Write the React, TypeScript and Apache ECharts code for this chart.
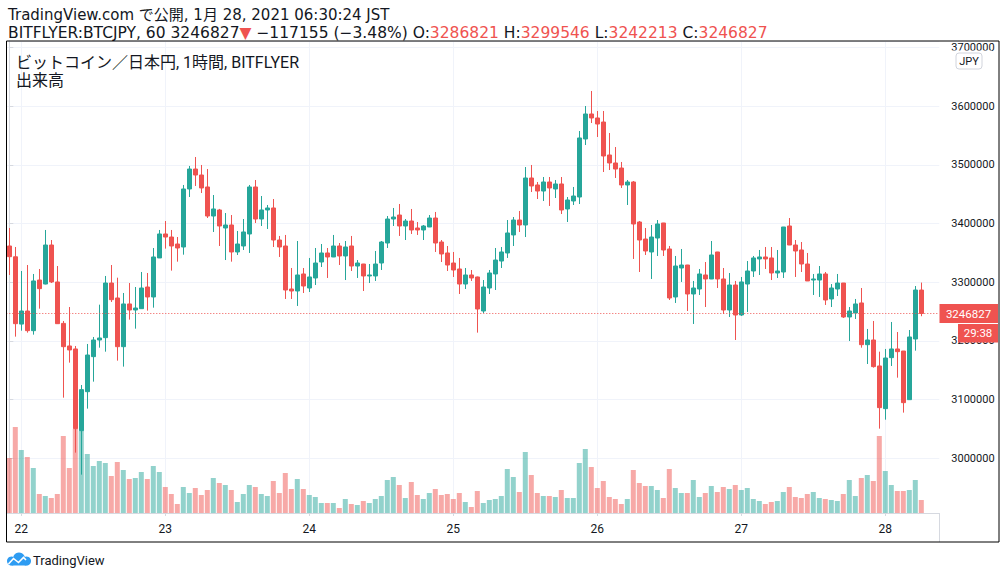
import React, { useEffect, useRef } from 'react';
import * as echarts from 'echarts';

// ---- Data (BITFLYER:BTCJPY, 1h candles, Jan 21 22:00 → Jan 28 06:00 JST) ----
const opens = [
  3361900, 3343500, 3228800, 3251100, 3217600, 3303900, 3297100, 3363600, 3300600, 3230000,
  3191500, 3186400, 3047200, 3113600, 3173300, 3201700, 3205700, 3298800, 3273300, 3190300,
  3263100, 3252800, 3255100, 3292000, 3275000, 3341500, 3382400, 3377200, 3365300, 3360200,
  3459100, 3493100, 3482900, 3462500, 3413000, 3423300, 3392600, 3397700, 3351700, 3361900,
  3382400, 3462500, 3407900, 3423300, 3426700, 3372100, 3361900, 3288600, 3285200, 3314200,
  3290300, 3307400, 3334600, 3350000, 3343200, 3361900, 3344900, 3361900, 3327800, 3331200,
  3310800, 3310800, 3332900, 3367000, 3407900, 3414700, 3396000, 3404500, 3392600, 3389200,
  3394300, 3409600, 3368700, 3350000, 3332900, 3322700, 3297100, 3312500, 3309100, 3251100,
  3290300, 3314200, 3336300, 3350000, 3380700, 3406200, 3397700, 3477800, 3465900, 3455600,
  3471000, 3459100, 3467600, 3425000, 3438600, 3445400, 3544300, 3586900, 3580100, 3573200,
  3517000, 3503400, 3494800, 3465900, 3471000, 3402800, 3373800, 3351700, 3375500, 3401100,
  3356800, 3275000, 3324400, 3329500, 3280100, 3288600, 3312500, 3305700, 3351700, 3305700,
  3252800, 3295400, 3244300, 3297100, 3319300, 3339800, 3343200, 3341500, 3315900, 3317600,
  3396000, 3363600, 3355100, 3331200, 3303900, 3303900, 3314200, 3271600, 3288600, 3298800,
  3240900, 3247700, 3264800, 3193700, 3201700, 3157400, 3084700, 3171600, 3186400, 3182900,
  3100000, 3203400, 3286821,
];
const highs = [
  3392600, 3360200, 3319300, 3329500, 3314200, 3322700, 3389200, 3372100, 3327800, 3234100,
  3257900, 3191500, 3125000, 3194900, 3206800, 3261900, 3310800, 3329500, 3307900, 3281800,
  3298800, 3292000, 3317600, 3315900, 3358500, 3389200, 3404500, 3389200, 3377200, 3465900,
  3498300, 3513600, 3500000, 3493100, 3448800, 3425100, 3418100, 3414700, 3387500, 3407900,
  3465900, 3474400, 3447100, 3431800, 3442000, 3379000, 3380700, 3324400, 3370400, 3324400,
  3341500, 3358500, 3365300, 3358500, 3380700, 3367000, 3370400, 3379000, 3338000, 3331400,
  3331200, 3353400, 3370400, 3413000, 3426700, 3433500, 3407900, 3425000, 3402800, 3397700,
  3414700, 3419900, 3372100, 3361900, 3351700, 3341500, 3324400, 3321000, 3309700, 3303900,
  3321000, 3358500, 3360200, 3406200, 3411300, 3421600, 3496500, 3500000, 3471000, 3479500,
  3479500, 3474400, 3479500, 3445400, 3462500, 3557900, 3600500, 3626100, 3592000, 3592000,
  3554500, 3530600, 3505100, 3474400, 3472700, 3404500, 3392600, 3397700, 3406200, 3401300,
  3361900, 3344900, 3356800, 3329700, 3302300, 3322700, 3334600, 3370400, 3351900, 3324400,
  3315900, 3302300, 3309100, 3336300, 3344900, 3355100, 3360200, 3360200, 3355100, 3394400,
  3409600, 3372100, 3368700, 3350000, 3314200, 3327800, 3317600, 3297100, 3314200, 3298900,
  3257900, 3271600, 3290300, 3220500, 3234100, 3181800, 3186400, 3232400, 3215300, 3183000,
  3218700, 3293700, 3299546,
];
const lows = [
  3312500, 3207400, 3217600, 3214200, 3210800, 3255100, 3296500, 3298800, 3229300, 3103400,
  3163100, 3009700, 2972200, 3084700, 3130700, 3188600, 3181800, 3266500, 3166500, 3156300,
  3236400, 3221000, 3255000, 3251700, 3256800, 3341400, 3357400, 3319900, 3335200, 3347100,
  3445400, 3464200, 3452200, 3409600, 3385800, 3361900, 3338000, 3335200, 3346600, 3355100,
  3350000, 3401100, 3396000, 3390900, 3360200, 3343200, 3271600, 3271600, 3259700, 3281800,
  3283500, 3295400, 3326100, 3307400, 3343000, 3329500, 3303900, 3319300, 3307400, 3285200,
  3298800, 3302300, 3321000, 3358500, 3396000, 3379000, 3372100, 3382400, 3380700, 3372100,
  3394200, 3351700, 3334600, 3319300, 3309100, 3280100, 3288600, 3302300, 3214200, 3247700,
  3280100, 3286900, 3324400, 3341500, 3361900, 3385800, 3377200, 3453900, 3442000, 3438600,
  3430100, 3443700, 3416400, 3402800, 3431800, 3433500, 3534000, 3571500, 3547700, 3488000,
  3491400, 3477800, 3460800, 3431800, 3339800, 3317600, 3346600, 3305700, 3344900, 3344900,
  3269900, 3264800, 3300600, 3251100, 3229000, 3278400, 3257900, 3305500, 3290300, 3246000,
  3240900, 3201700, 3242600, 3249400, 3309100, 3312500, 3322700, 3303900, 3307400, 3307400,
  3363500, 3309100, 3317600, 3302200, 3278400, 3275000, 3261400, 3257900, 3276700, 3239200,
  3200000, 3237500, 3188600, 3160800, 3154600, 3050600, 3065900, 3157400, 3137500, 3077900,
  3099900, 3183500, 3242213,
];
const closes = [
  3343700, 3229500, 3251100, 3217600, 3302300, 3289200, 3363600, 3300600, 3229500, 3190300,
  3184700, 3050600, 3117100, 3176100, 3201700, 3205100, 3298800, 3270400, 3190300, 3263100,
  3252800, 3256200, 3290300, 3275000, 3343200, 3382400, 3377200, 3361900, 3358500, 3459100,
  3493100, 3482900, 3460800, 3413000, 3425000, 3396000, 3397700, 3351700, 3365300, 3385800,
  3462500, 3407900, 3423300, 3426700, 3372100, 3360200, 3286900, 3285200, 3312500, 3293700,
  3309100, 3332900, 3350000, 3343200, 3361900, 3344900, 3360200, 3327800, 3332900, 3310800,
  3312500, 3331200, 3368700, 3407900, 3411300, 3396000, 3404500, 3389200, 3389200, 3396000,
  3409600, 3367000, 3348300, 3329500, 3321000, 3297100, 3312500, 3307400, 3254500, 3292000,
  3315900, 3338000, 3351700, 3384100, 3406200, 3397700, 3477800, 3464200, 3455600, 3471000,
  3460800, 3467600, 3423300, 3440300, 3447100, 3546000, 3586900, 3580100, 3569800, 3515300,
  3503400, 3493100, 3465900, 3471000, 3399400, 3372100, 3353400, 3377200, 3399400, 3355100,
  3273300, 3327800, 3329500, 3280100, 3290300, 3314200, 3305700, 3346600, 3305700, 3252800,
  3295400, 3244300, 3300600, 3319300, 3341500, 3343200, 3339800, 3315900, 3319300, 3394300,
  3363600, 3353400, 3331200, 3302300, 3305700, 3314200, 3269900, 3290300, 3298800, 3240900,
  3251100, 3263100, 3193700, 3201700, 3156300, 3086400, 3171000, 3186400, 3181800, 3094900,
  3206800, 3286900, 3246827,
];
const volumes = [
  1650, 2580, 1890, 1680, 1350, 570, 510, 450, 570, 2310,
  1350, 2520, 2470, 1770, 1410, 1560, 1500, 1110, 1530, 1290,
  1020, 1050, 1230, 1020, 1410, 1230, 780, 570, 270, 780,
  600, 750, 540, 690, 1050, 900, 840, 690, 330, 570,
  840, 780, 570, 510, 960, 600, 1200, 720, 1020, 720,
  540, 480, 300, 300, 300, 150, 420, 270, 240, 360,
  300, 420, 510, 990, 1080, 840, 450, 930, 540, 420,
  600, 720, 540, 570, 420, 600, 330, 180, 660, 300,
  390, 420, 510, 1320, 1080, 630, 1830, 1140, 600, 510,
  510, 480, 690, 450, 450, 1500, 1920, 1380, 750, 960,
  480, 420, 270, 420, 1290, 900, 810, 810, 690, 450,
  1320, 750, 600, 600, 990, 480, 600, 810, 630, 780,
  720, 840, 690, 750, 420, 360, 270, 330, 360, 630,
  780, 480, 450, 570, 630, 450, 420, 390, 360, 570,
  990, 510, 1050, 1140, 960, 2310, 1260, 840, 660, 660,
  690, 990, 390,
];
const dayLabels = ['22', '23', '24', '25', '26', '27', '28'];
const firstDayCandle = 2; // Jan 22 00:00 is the third hourly candle
const candlesPerDay = 24;

const publishedText = 'TradingView.com で公開, 1月 28, 2021 06:30:24 JST';
const symbolText = 'BITFLYER:BTCJPY, 60';
const changeAbs = '−117155';
const changePct = '(−3.48%)';
const legendTitle = 'ビットコイン／日本円, 1時間, BITFLYER';
const volumeTitle = '出来高';
const currency = 'JPY';
const countdown = '29:38';
const brand = 'TradingView';

// ---- Styles ----
const UP = '#26a69a';
const DOWN = '#ef5350';
const UP_VOL = 'rgba(38,166,154,0.5)';
const DOWN_VOL = 'rgba(239,83,80,0.5)';
const TEXT = '#131722';
const GRID = '#f0f3fa';
const AXIS = '#d6d9e0';
const FONT = 'Roboto, "Noto Sans CJK JP", sans-serif';
const HEAD_FONT = '"DejaVu Sans", "Noto Sans CJK JP", sans-serif';
const LOGO = '#2e9cf2';

const dayTickValues = dayLabels.map((_, k) => firstDayCandle + k * candlesPerDay);

export default function App() {
  const ref = useRef<HTMLDivElement>(null);

  useEffect(() => {
    if (!ref.current) return;
    const chart = echarts.init(ref.current, null, { renderer: 'svg' });
    const last = opens.length - 1;
    const lastClose = closes[last];

    chart.setOption({
      animation: false,
      backgroundColor: '#ffffff',
      grid: { left: 6.3, right: 66.7, top: 41, bottom: 66, outerBoundsMode: 'none', containLabel: false },
      xAxis: {
        type: 'value',
        min: -0.5,
        max: 155,
        axisLine: { show: true, lineStyle: { color: AXIS, width: 1 } },
        axisTick: { show: true, length: 3, customValues: dayTickValues, lineStyle: { color: AXIS } },
        axisLabel: {
          customValues: dayTickValues,
          formatter: (v: number) => {
            const k = dayTickValues.indexOf(v);
            return k >= 0 ? dayLabels[k] : '';
          },
          color: TEXT,
          fontSize: 12,
          fontFamily: FONT,
          margin: 10,
        },
        splitLine: { show: true, lineStyle: { color: GRID, width: 1 } },
      },
      yAxis: [
        {
          type: 'value',
          position: 'right',
          min: 2906820,
          max: 3711300,
          splitNumber: 8,
          axisLine: { show: true, lineStyle: { color: AXIS, width: 1 } },
          axisTick: { show: true, length: 4, lineStyle: { color: AXIS } },
          axisLabel: {
            formatter: (v: number) => String(Math.round(v)),
            color: TEXT,
            fontSize: 11,
            fontFamily: FONT,
            margin: 12,
            showMinLabel: false,
            showMaxLabel: false,
          },
          splitLine: { show: true, lineStyle: { color: GRID, width: 1 } },
        },
        { type: 'value', min: 0, max: 14160, show: false },
      ],
      series: [
        {
          name: volumeTitle,
          type: 'bar',
          xAxisIndex: 0,
          yAxisIndex: 1,
          barWidth: 5,
          silent: true,
          z: 1,
          data: volumes.map((v, i) => ({
            value: [i, v],
            itemStyle: { color: closes[i] >= opens[i] ? UP_VOL : DOWN_VOL },
          })),
        },
        {
          name: 'BTCJPY',
          type: 'candlestick',
          xAxisIndex: 0,
          yAxisIndex: 0,
          barWidth: 4.4,
          silent: true,
          z: 3,
          itemStyle: { color: UP, color0: DOWN, borderColor: UP, borderColor0: DOWN, borderWidth: 1 },
          data: opens.map((o, i) => [i, o, closes[i], lows[i], highs[i]]),
          markLine: {
            silent: true,
            symbol: 'none',
            label: { show: false },
            lineStyle: { color: DOWN, type: [1, 2], width: 1 },
            data: [{ yAxis: lastClose }],
          },
        },
      ],
    });

    const yPix = chart.convertToPixel({ yAxisIndex: 0 }, lastClose) as number;

    const header2 =
      `${symbolText} ${lastClose}{r|▼} ${changeAbs} ${changePct} ` +
      `O:{r|${opens[last]}} H:{r|${highs[last]}} L:{r|${lows[last]}} C:{r|${closes[last]}}`;

    chart.setOption({
      graphic: [
        {
          type: 'text', x: 8, y: 15, z: 10,
          style: { text: publishedText, fill: TEXT, fontSize: 15, fontFamily: HEAD_FONT, verticalAlign: 'middle' },
        },
        {
          type: 'text', x: 8, y: 32.5, z: 10,
          style: {
            text: header2, fill: TEXT, fontSize: 15.5, fontFamily: HEAD_FONT, verticalAlign: 'middle',
            rich: { r: { fill: DOWN, fontSize: 15.5, fontFamily: HEAD_FONT } },
          },
        },
        {
          type: 'text', x: 16, y: 62, z: 10,
          style: { text: legendTitle, fill: TEXT, fontSize: 16, fontFamily: FONT, verticalAlign: 'middle' },
        },
        {
          type: 'text', x: 16, y: 80, z: 10,
          style: { text: volumeTitle, fill: TEXT, fontSize: 16, fontFamily: FONT, verticalAlign: 'middle' },
        },
        // lower part of price-scale separator
        { type: 'line', z: 10, shape: { x1: 939.5, y1: 513, x2: 939.5, y2: 542 }, style: { stroke: AXIS, lineWidth: 1 } },
        // chart frame
        { type: 'rect', z: 20, shape: { x: 6.5, y: 41, width: 992.5, height: 501 }, style: { fill: 'none', stroke: '#000', lineWidth: 1 } },
        // currency box
        { type: 'rect', z: 11, shape: { x: 950, y: 50.5, width: 42, height: 21 }, style: { fill: '#fff' } },
        { type: 'rect', z: 12, shape: { x: 956, y: 53, width: 26, height: 16, r: 3 }, style: { fill: '#fff', stroke: '#d1d4dc', lineWidth: 1 } },
        {
          type: 'text', x: 969, y: 61.5, z: 13,
          style: { text: currency, fill: TEXT, fontSize: 11, fontFamily: FONT, align: 'center', verticalAlign: 'middle' },
        },
        // last price label
        { type: 'rect', z: 12, shape: { x: 939.5, y: yPix - 9.5, width: 58.5, height: 19 }, style: { fill: DOWN } },
        {
          type: 'text', x: 968.5, y: yPix, z: 13,
          style: { text: String(lastClose), fill: '#fff', fontSize: 11.5, fontFamily: FONT, align: 'center', verticalAlign: 'middle' },
        },
        { type: 'rect', z: 12, shape: { x: 958, y: yPix + 10.5, width: 40, height: 18.5 }, style: { fill: DOWN } },
        {
          type: 'text', x: 978, y: yPix + 19.8, z: 13,
          style: { text: countdown, fill: '#fff', fontSize: 11.5, fontFamily: FONT, align: 'center', verticalAlign: 'middle' },
        },
        // brand: cloud icon
        { type: 'circle', z: 10, shape: { cx: 11.5, cy: 561, r: 4.5 }, style: { fill: LOGO } },
        { type: 'circle', z: 10, shape: { cx: 19, cy: 558.5, r: 6 }, style: { fill: LOGO } },
        { type: 'circle', z: 10, shape: { cx: 26.5, cy: 561, r: 4.5 }, style: { fill: LOGO } },
        { type: 'rect', z: 10, shape: { x: 11.5, y: 560, width: 15, height: 5.5 }, style: { fill: LOGO } },
        {
          type: 'polyline', z: 11,
          shape: { points: [[8.5, 564], [13.5, 558.5], [18.5, 562.5], [23.5, 557.5], [26, 560]] },
          style: { stroke: '#fff', lineWidth: 1.6, fill: 'none' },
        },
        {
          type: 'text', x: 33, y: 560.5, z: 10,
          style: { text: brand, fill: TEXT, fontSize: 13, fontFamily: FONT, verticalAlign: 'middle' },
        },
      ],
    });

    return () => chart.dispose();
  }, []);

  return (
    <div
      ref={ref}
      style={{ position: 'absolute', left: 0, top: 0, width: 1006, height: 579, background: '#fff' }}
    />
  );
}
